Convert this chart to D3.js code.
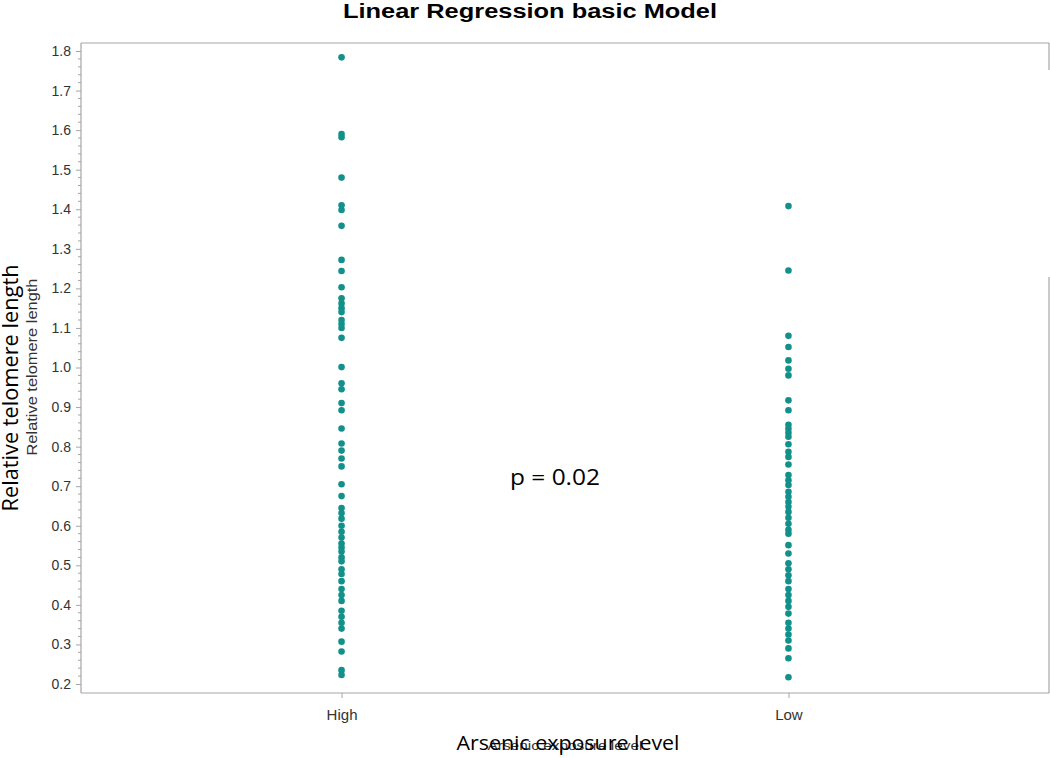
<!DOCTYPE html>
<html lang="en">
<head>
<meta charset="UTF-8">
<title>Linear Regression basic Model</title>
<script src="https://d3js.org/d3.v7.min.js"></script>
<style>
    body { margin: 0; background: #fff; }
    svg { display: block; }
    .tick-label { font-family: "Liberation Sans", Arial, sans-serif; fill: #333; }
</style>
</head>
<body>
<div id="chart"></div>
<script>
    // data
    const categories = ["High", "Low"];
    const highValues = [1.784, 1.59, 1.582, 1.48, 1.41, 1.398, 1.358, 1.272, 1.244, 1.203, 1.175,
        1.162, 1.15, 1.14, 1.12, 1.11, 1.10, 1.075, 1.001, 0.96, 0.945, 0.91, 0.892, 0.846,
        0.808, 0.79, 0.77, 0.75, 0.705, 0.675, 0.645, 0.632, 0.618, 0.60, 0.585, 0.57, 0.555,
        0.545, 0.535, 0.52, 0.51, 0.49, 0.478, 0.46, 0.44, 0.425, 0.41, 0.385, 0.37, 0.355,
        0.34, 0.307, 0.282, 0.235, 0.223];
    const lowValues = [1.408, 1.245, 1.08, 1.052, 1.018, 0.997, 0.98, 0.917, 0.892, 0.855,
        0.845, 0.835, 0.825, 0.806, 0.787, 0.774, 0.755, 0.728, 0.715, 0.703, 0.686, 0.673,
        0.66, 0.648, 0.635, 0.62, 0.605, 0.59, 0.58, 0.551, 0.53, 0.505, 0.49, 0.475, 0.46,
        0.44, 0.425, 0.41, 0.395, 0.378, 0.355, 0.34, 0.325, 0.31, 0.29, 0.265, 0.217];
    const yTicks = [0.2, 0.3, 0.4, 0.5, 0.6, 0.7, 0.8, 0.9, 1.0, 1.1, 1.2, 1.3, 1.4, 1.5, 1.6, 1.7, 1.8];

    const width = 1050, height = 758;
    const frame = { left: 81, top: 43, right: 1049, bottom: 693 };
    const frameColor = "#a6a6a6";
    const dotColor = "#12908a";

    const svg = d3.select("#chart").append("svg")
        .attr("width", width).attr("height", height);

    const x = d3.scalePoint()
        .domain(categories)
        .range([frame.left, frame.right])
        .padding(0.583);

    const y = d3.scaleLinear()
        .domain([0.2, 1.8])
        .range([684, 51]);

    // title
    svg.append("text")
        .attr("x", 343).attr("y", 18)
        .attr("textLength", 374).attr("lengthAdjust", "spacingAndGlyphs")
        .style("font-family", "'Liberation Sans', Arial, sans-serif")
        .style("font-weight", "bold")
        .style("font-size", "20px")
        .text("Linear Regression basic Model");

    // frame (right edge partly hidden in the original)
    const fr = svg.append("g").attr("stroke", frameColor).attr("stroke-width", 1.2);
    fr.append("line").attr("x1", frame.left).attr("x2", frame.right).attr("y1", frame.top).attr("y2", frame.top);
    fr.append("line").attr("x1", frame.right).attr("x2", frame.right).attr("y1", frame.top).attr("y2", 70);
    fr.append("line").attr("x1", frame.right).attr("x2", frame.right).attr("y1", 277).attr("y2", frame.bottom);

    // y axis
    const yAxis = svg.append("g")
        .attr("transform", `translate(${frame.left},0)`)
        .call(d3.axisLeft(y).tickValues(yTicks).tickFormat(d3.format(".1f")).tickSize(5).tickPadding(5));
    yAxis.select(".domain").attr("stroke", frameColor).attr("stroke-width", 1.2)
        .attr("d", `M0,${frame.top}V${frame.bottom}`);
    yAxis.selectAll(".tick line").attr("stroke", frameColor);
    yAxis.selectAll(".tick text").attr("class", "tick-label").attr("fill", null).style("font-size", "14px");

    // minor ticks
    const minor = d3.range(0.2, 1.8001, 0.02).filter(v => Math.abs(v * 10 - Math.round(v * 10)) > 0.01);
    svg.append("g").selectAll("line").data(minor).join("line")
        .attr("x1", frame.left - 3).attr("x2", frame.left)
        .attr("y1", d => y(d)).attr("y2", d => y(d))
        .attr("stroke", frameColor);

    // x axis
    const xAxis = svg.append("g")
        .attr("transform", `translate(0,${frame.bottom})`)
        .call(d3.axisBottom(x).tickSize(5).tickPadding(11));
    xAxis.select(".domain").attr("stroke", frameColor).attr("stroke-width", 1.2)
        .attr("d", `M${frame.left},0H${frame.right}`);
    xAxis.selectAll(".tick line").attr("stroke", frameColor);
    xAxis.selectAll(".tick text").attr("class", "tick-label").attr("fill", null).style("font-size", "15px");

    // points
    const points = [];
    highValues.forEach(v => points.push({ cat: "High", v }));
    lowValues.forEach(v => points.push({ cat: "Low", v }));
    svg.append("g").selectAll("circle").data(points).join("circle")
        .attr("cx", d => x(d.cat))
        .attr("cy", d => y(d.v))
        .attr("r", 3.3)
        .attr("fill", dotColor);

    // small axis labels (underneath)
    svg.append("text")
        .attr("transform", "translate(37,367) rotate(-90)")
        .attr("text-anchor", "middle")
        .attr("textLength", 177).attr("lengthAdjust", "spacingAndGlyphs")
        .style("font-family", "'Liberation Sans', Arial, sans-serif")
        .style("font-size", "14px").attr("fill", "#333")
        .text("Relative telomere length");
    svg.append("text")
        .attr("x", 565).attr("y", 750)
        .attr("text-anchor", "middle")
        .attr("textLength", 155).attr("lengthAdjust", "spacingAndGlyphs")
        .style("font-family", "'Liberation Sans', Arial, sans-serif")
        .style("font-size", "13px").attr("fill", "#333")
        .text("Arsenic exposure level");

    // big overlaid axis labels
    svg.append("text")
        .attr("transform", "translate(18,388) rotate(-90)")
        .attr("text-anchor", "middle")
        .attr("textLength", 247).attr("lengthAdjust", "spacingAndGlyphs")
        .style("font-family", "'Open Sans', sans-serif")
        .style("font-size", "21px")
        .text("Relative telomere length");
    svg.append("text")
        .attr("x", 568).attr("y", 750)
        .attr("text-anchor", "middle")
        .attr("textLength", 223).attr("lengthAdjust", "spacingAndGlyphs")
        .style("font-family", "'Open Sans', sans-serif")
        .style("font-size", "20px")
        .text("Arsenic exposure level");

    // annotation
    svg.append("text")
        .attr("x", 555).attr("y", 485)
        .attr("text-anchor", "middle")
        .attr("textLength", 90).attr("lengthAdjust", "spacingAndGlyphs")
        .style("font-family", "'Open Sans', sans-serif")
        .style("font-size", "22px")
        .text("p = 0.02");
</script>
</body>
</html>
